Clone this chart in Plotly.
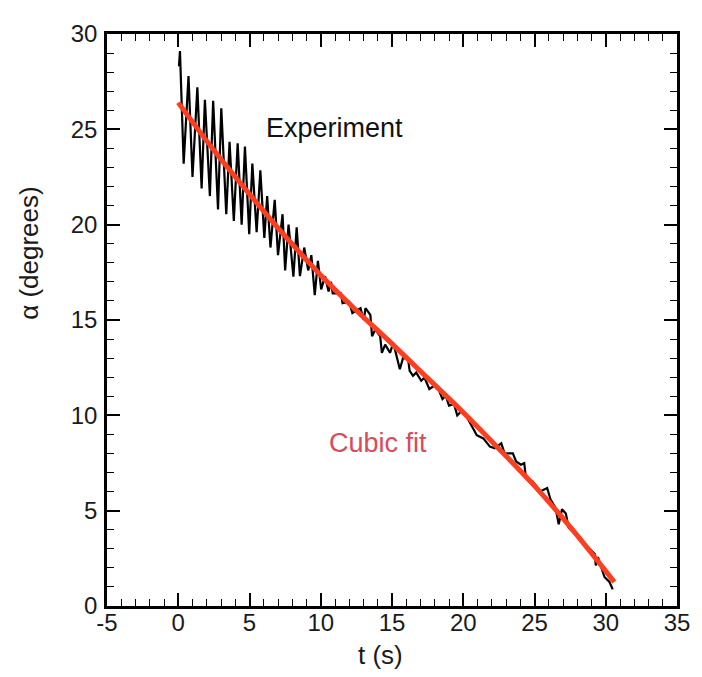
import plotly.graph_objects as go

# Experiment data (t in s, alpha in degrees)
exp_t = [0.05, 0.12, 0.38, 0.72, 1.0, 1.34, 1.64, 1.87, 2.22, 2.45, 2.79, 3.02, 3.37, 3.6, 3.9,
         4.17, 4.45, 4.68, 4.98, 5.2, 5.5, 5.76, 6.04, 6.24, 6.47, 6.77, 7.0, 7.32, 7.5, 7.74,
         8.08, 8.31, 8.54, 8.84, 9.12, 9.34, 9.58, 9.8, 10.03, 10.3, 10.55, 10.72, 10.84, 11.41,
         11.53, 11.99, 12.22, 12.79, 13.02, 13.14, 13.48, 13.6, 13.83, 14.17, 14.29, 14.52, 14.86,
         15.09, 15.32, 15.55, 15.78, 16.13, 16.24, 16.47, 16.7, 17.05, 17.28, 17.62, 17.97, 18.31,
         18.54, 18.77, 19.0, 19.35, 19.58, 19.92, 20.26, 20.72, 20.95, 21.41, 21.87, 22.21, 22.67,
         22.9, 23.48, 23.71, 24.05, 24.28, 24.4, 24.86, 25.43, 25.89, 26.12, 26.47, 26.7, 26.93,
         27.2, 27.39, 27.85, 28.19, 28.54, 28.88, 29.23, 29.3, 29.45, 29.91, 30.26, 30.49]
exp_a = [28.3, 29.1, 23.2, 27.8, 22.5, 27.2, 21.9, 26.55, 21.5, 26.5, 20.8, 26.1, 20.55, 24.35, 20.2,
         24.27, 20.0, 24.1, 19.5, 23.2, 19.6, 22.85, 19.3, 21.5, 18.8, 21.3, 18.4, 20.55, 17.6, 20.0,
         17.27, 19.86, 17.3, 18.8, 17.6, 18.4, 16.3, 18.1, 16.6, 17.3, 16.5, 17.0, 16.4, 16.4,
         15.88, 15.96, 15.36, 15.62, 15.0, 15.62, 15.27, 14.15, 14.5, 14.15, 13.28, 13.71, 13.28,
         13.8, 13.11, 12.42, 13.02, 12.93, 12.33, 12.07, 12.24, 11.81, 11.98, 11.38, 11.55, 11.29,
         10.86, 11.03, 10.51, 10.6, 10.0, 10.25, 9.9, 9.31, 8.96, 8.79, 8.36, 8.27, 8.53,
         8.01, 8.01, 7.58, 7.41, 7.49, 6.71, 6.54, 6.02, 6.19, 5.59, 5.16, 4.29, 5.07,
         4.85, 4.12, 3.77, 3.6, 3.25, 2.99, 2.73, 2.13, 2.56, 1.52, 1.26, 0.87]

# Cubic fit
fit_t = [0, 2.5, 5, 7.5, 10, 12.5, 15, 17.5, 20, 22.5, 25, 27.5, 30.6]
fit_a = [26.4, 23.9, 21.6, 19.4, 17.35, 15.5, 13.75, 11.95, 10.15, 8.25, 6.3, 4.15, 1.26]

x_ticks = [-5, 0, 5, 10, 15, 20, 25, 30, 35]
y_ticks = [0, 5, 10, 15, 20, 25, 30]

FONT = "Arial, Liberation Sans, sans-serif"

fig = go.Figure()
fig.add_trace(go.Scatter(x=exp_t, y=exp_a, mode="lines",
                         line=dict(color="black", width=2.2), showlegend=False))
fig.add_trace(go.Scatter(x=fit_t, y=fit_a, mode="lines",
                         line=dict(color="#ff3d1f", width=5, shape="spline"), showlegend=False))

axis_common = dict(
    showgrid=False, zeroline=False, showline=True, linecolor="black", linewidth=2.5,
    mirror="allticks", ticks="inside", ticklen=13, tickwidth=1.6, tickcolor="black",
    tickfont=dict(family=FONT, size=24, color="#1a1a1a"),
)
fig.update_xaxes(range=[-5, 35], tickvals=x_ticks, ticktext=[str(v) for v in x_ticks],
                 ticklabelstandoff=-7,
                 minor=dict(dtick=1, ticks="inside", ticklen=7, tickwidth=1.4, tickcolor="black"),
                 **axis_common)
fig.update_yaxes(range=[0, 30], tickvals=y_ticks, ticktext=[str(v) for v in y_ticks],
                 ticklabelstandoff=2,
                 minor=dict(dtick=1, ticks="inside", ticklen=7, tickwidth=1.4, tickcolor="black"),
                 **axis_common)

fig.add_annotation(x=10.93, y=25.07, text="Experiment", showarrow=False,
                   xanchor="center", yanchor="middle",
                   font=dict(family=FONT, size=27, color="#111"))
fig.add_annotation(x=14.03, y=8.56, text="Cubic fit", showarrow=False,
                   xanchor="center", yanchor="middle",
                   font=dict(family=FONT, size=27, color="#d94a5a"))
fig.add_annotation(x=0.479, y=-0.085, xref="paper", yref="paper", text="t (s)",
                   xanchor="center", yanchor="middle",
                   showarrow=False, font=dict(family=FONT, size=26, color="#1a1a1a"))
fig.add_annotation(x=-0.138, y=0.618, xref="paper", yref="paper", text="α (degrees)",
                   xanchor="center", yanchor="middle",
                   textangle=-90, showarrow=False, font=dict(family=FONT, size=26, color="#1a1a1a"))

# page body adds an 8px offset; margins compensate so the plot area lands at
# x 107..687, y 28..606 in the window
fig.update_layout(width=694, height=669, margin=dict(l=99, r=15, t=20, b=71),
                  plot_bgcolor="white", paper_bgcolor="white")
fig.write_html("out.html")
